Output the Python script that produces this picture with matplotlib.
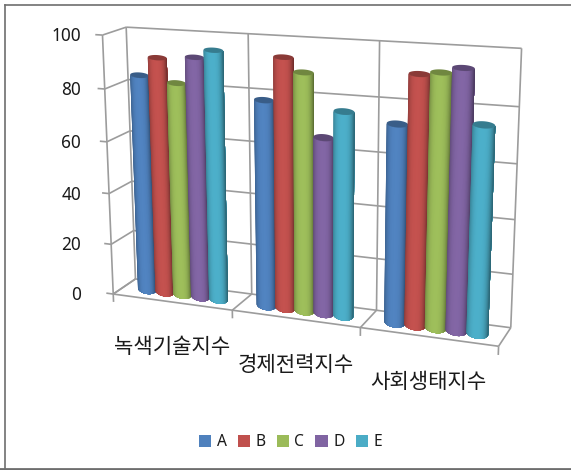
import numpy as np
import matplotlib
matplotlib.use("Agg")
import matplotlib.pyplot as plt
from matplotlib.collections import PolyCollection
from matplotlib.patches import Patch

plt.rcParams['font.family'] = ['Noto Sans', 'Noto Sans CJK KR', 'DejaVu Sans']

categories = ["녹색기술지수", "경제전력지수", "사회생태지수"]
series_names = ["A", "B", "C", "D", "E"]
series_a = [84, 78, 73]
series_b = [91, 94, 91]
series_c = [82, 89, 92]
series_d = [92, 66, 94]
series_e = [95, 76, 75]
y_ticks = [0, 20, 40, 60, 80, 100]
colors = ["#4F81BD", "#C0504D", "#9BBB59", "#8064A2", "#4BACC6"]

# camera fitted on the box corners: (category, value, depth) -> pixel
box_world = [(0, 0, 0), (1, 0, 0), (2, 0, 0), (3, 0, 0), (0, 100, 0),
             (0, 0, 1), (1, 0, 1), (2, 0, 1), (3, 0, 1),
             (0, 100, 1), (1, 100, 1), (2, 100, 1), (3, 100, 1)]
box_pixel = [(113, 295), (233, 310), (361, 327), (498, 346), (102, 35),
             (135, 279), (252, 293), (376, 310), (511, 329),
             (127, 27), (248, 34), (379, 41), (522, 48)]

rows = []
for (wx, wy, wz), (px, py) in zip(box_world, box_pixel):
    rows.append([wx, wy, wz, 1, 0, 0, 0, 0, -px * wx, -px * wy, -px * wz, -px])
    rows.append([0, 0, 0, 0, wx, wy, wz, 1, -py * wx, -py * wy, -py * wz, -py])
cam = np.linalg.svd(np.array(rows, dtype=float))[2][-1].reshape(3, 4)


def project(wx, wy, wz):
    wx, wy, wz = np.broadcast_arrays(wx, wy, wz)
    pts = np.stack([wx, wy, wz, np.ones_like(wx, dtype=float)])
    u, v, w = cam @ pts.reshape(4, -1)
    return np.column_stack([u / w, v / w])


def edge(ax, a, b, color="#9c9c9c", lw=1.2):
    xy = project(*np.array([a, b], dtype=float).T)
    ax.plot(xy[:, 0], xy[:, 1], color=color, lw=lw, solid_capstyle="butt", zorder=1)


def ring(xc, value, radius, depth, s):
    # one cross section of a bar: s runs -1..1 across the width
    left = project(xc - radius, value, 0.5)[0]
    right = project(xc + radius, value, 0.5)[0]
    mid = 0.5 * (left + right)
    half = 0.5 * (right - left)
    drop = project(xc, value, 0.5 - depth)[0][1] - mid[1]
    pts = mid + np.outer(s, half)
    return pts, drop * np.sqrt(np.clip(1 - s * s, 0, 1))


def cylinder(ax, xc, value, color, radius=0.078, depth=0.3):
    base = np.array(matplotlib.colors.to_rgb(color))
    s = np.sin(np.linspace(-np.pi / 2, np.pi / 2, 41))
    low, low_drop = ring(xc, 0.0, radius, depth, s)
    high, high_drop = ring(xc, value, radius, depth, s)
    low[:, 1] += low_drop
    front = high.copy()
    front[:, 1] += high_drop
    # nested polygons, each one reaching to the right side, so no seams show
    polys = []
    faces = []
    for i in range(len(s) - 1):
        polys.append(np.vstack([low[i:], front[i:][::-1]]))
        m = abs(0.5 * (s[i] + s[i + 1]) + 0.1)
        faces.append(np.clip(base * (0.68 + 0.34 * (1 - m ** 3)), 0, 1))
    ax.add_collection(PolyCollection(polys, facecolors=faces, edgecolors="none", zorder=3))
    # top cap, darker than the body
    back = high.copy()
    back[:, 1] -= high_drop
    cap = np.vstack([front, back[::-1]])
    ax.fill(cap[:, 0], cap[:, 1], color=base * 0.72, lw=0, zorder=3)


fig = plt.figure(figsize=(5.71, 4.70), dpi=100)
ax = fig.add_axes([0, 0, 1, 1])
ax.set_xlim(0, 571)
ax.set_ylim(470, 0)
ax.axis("off")

# outer chart frame
ax.plot([5, 5], [5, 468], color="#6e6e6e", lw=1.2)
ax.plot([5, 571], [5, 5], color="#6e6e6e", lw=1.2)
ax.plot([0, 571], [468.5, 468.5], color="#6e6e6e", lw=2)

# walls and floor
for v in y_ticks:
    edge(ax, (0, v, 1), (3, v, 1))
    edge(ax, (0, v, 0), (0, v, 1))
    edge(ax, (-0.06, v, 0), (0, v, 0))
for c in range(4):
    edge(ax, (c, 0, 1), (c, 100, 1))
    edge(ax, (c, 0, 0), (c, 0, 1))
    edge(ax, (c, -3.2, 0), (c, 0, 0))
edge(ax, (0, 0, 0), (0, 100, 0))
edge(ax, (0, 0, 0), (3, 0, 0))

# tick labels sit left of the front edge
for v in y_ticks:
    px, py = project(0.0, float(v), 0.0)[0]
    ax.text(81, py + 1, str(v), ha="right", va="center", fontsize=12.4, color="#1a1a1a")

label_pos = [(172, 347), (296, 365), (428, 382)]
for name, (lx, ly) in zip(categories, label_pos):
    ax.text(lx, ly, name, ha="center", va="center", fontsize=15.2, color="#1a1a1a",
            family=["Noto Sans CJK KR", "DejaVu Sans"])

all_series = [series_a, series_b, series_c, series_d, series_e]
for g in range(len(categories)):
    for k, vals in enumerate(all_series):
        cylinder(ax, g + 0.196 + 0.152 * k, vals[g], colors[k])

handles = [Patch(facecolor=c, edgecolor="none", label=n) for c, n in zip(colors, series_names)]
ax.legend(handles=handles, loc="center", bbox_to_anchor=(290.5 / 571, 1 - 442.5 / 470), ncol=5,
          frameon=False, fontsize=11.2, handlelength=0.78, handleheight=0.78,
          handletextpad=0.35, columnspacing=0.72, borderpad=0, labelcolor="#1a1a1a")

fig.savefig("out.png", dpi=100)
